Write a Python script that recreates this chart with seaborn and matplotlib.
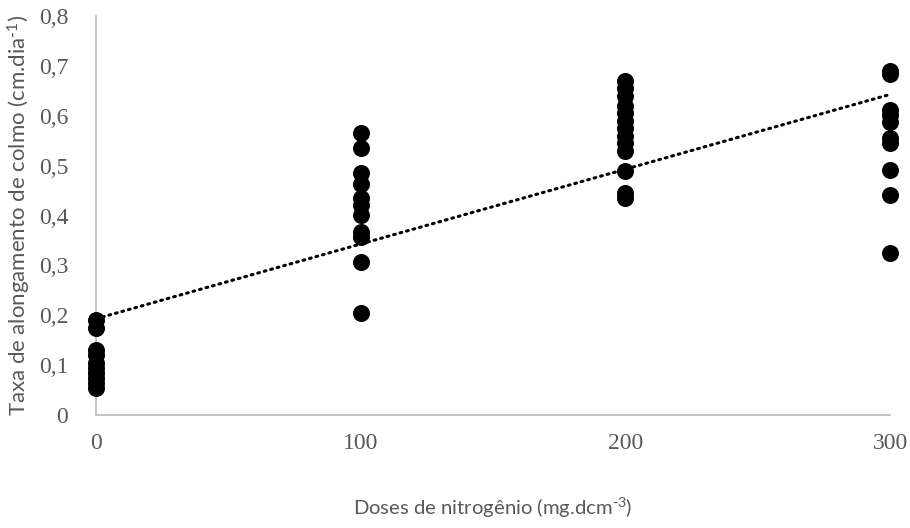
import numpy as np
import pandas as pd
import matplotlib
matplotlib.use("Agg")
import matplotlib.pyplot as plt
import seaborn as sns
from matplotlib.ticker import FuncFormatter

# Nitrogen doses (mg.dcm-3)
doses = [0, 100, 200, 300]

# Stem elongation rate (cm.dia-1) observed at each dose
rate_0 = [0.19, 0.175, 0.13, 0.12, 0.105, 0.095, 0.085, 0.075, 0.065, 0.055]
rate_100 = [0.566, 0.536, 0.486, 0.464, 0.436, 0.421, 0.401, 0.367, 0.357, 0.307, 0.204]
rate_200 = [0.67, 0.655, 0.64, 0.62, 0.605, 0.59, 0.575, 0.56, 0.545, 0.53, 0.49, 0.445, 0.435]
rate_300 = [0.69, 0.684, 0.612, 0.602, 0.588, 0.555, 0.545, 0.492, 0.442, 0.324]

x_ticks = [0, 100, 200, 300]
y_ticks = [0, 0.1, 0.2, 0.3, 0.4, 0.5, 0.6, 0.7, 0.8]

x_label = r"Doses de nitrogênio (mg.dcm$^{\text{-}3}$)"
y_label = r"Taxa de alongamento de colmo (cm.dia$^{\text{-}1}$)"

df = pd.DataFrame({
    "dose": np.repeat(doses, [len(rate_0), len(rate_100), len(rate_200), len(rate_300)]),
    "rate": rate_0 + rate_100 + rate_200 + rate_300,
})

sns.set_theme(style="white")
plt.rcParams["mathtext.default"] = "regular"

grey_text = "#595959"
grey_axis = "#BFBFBF"

fig = plt.figure(figsize=(9.10, 5.28), dpi=100)
ax = fig.add_axes([96 / 910, 1 - 415 / 528, (890 - 96) / 910, (415 - 16) / 528])

sns.regplot(
    data=df, x="dose", y="rate", ax=ax, ci=None, truncate=True,
    scatter_kws=dict(s=150, color="black", alpha=1, linewidths=0, clip_on=False, zorder=3),
    line_kws=dict(color="black", linewidth=2.2, linestyle=(0, (0.6, 1.6)),
                  dash_capstyle="round", zorder=4),
)

ax.set_xlim(0, 300)
ax.set_ylim(0, 0.8)
ax.set_xticks(x_ticks)
ax.set_yticks(y_ticks)
ax.yaxis.set_major_formatter(FuncFormatter(lambda v, _: "0" if abs(v) < 1e-9 else f"{v:.1f}".replace(".", ",")))

for lab in ax.get_xticklabels() + ax.get_yticklabels():
    lab.set_fontfamily("Liberation Serif")
    lab.set_fontsize(17)
    lab.set_color(grey_text)
ax.tick_params(axis="y", length=0, pad=20)
ax.tick_params(axis="x", length=0, pad=13)

ax.set_xlabel(x_label, fontfamily="Lato", fontsize=14.6, color=grey_text, labelpad=30)
ax.set_ylabel(y_label, fontfamily="Lato", fontsize=16, color=grey_text, labelpad=4)

for side in ["top", "right"]:
    ax.spines[side].set_visible(False)
for side in ["left", "bottom"]:
    ax.spines[side].set_color(grey_axis)
    ax.spines[side].set_linewidth(1.3)

fig.savefig("out.png", dpi=100, facecolor="white")
